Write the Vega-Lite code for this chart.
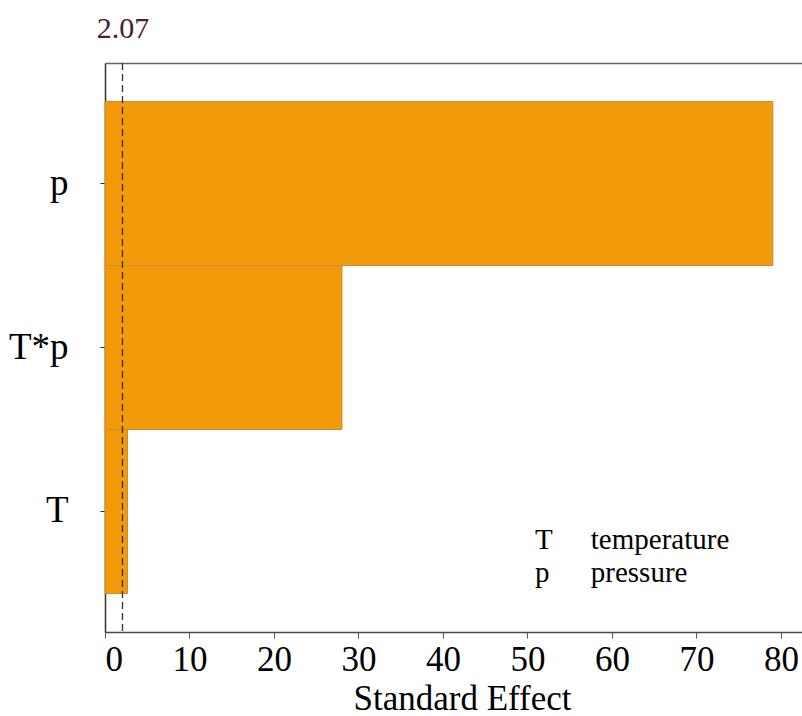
{
  "$schema": "https://vega.github.io/schema/vega-lite/v6.json",
  "width": 697,
  "height": 569,
  "autosize": {"type": "none"},
  "padding": {"left": 105, "top": 63, "right": 0, "bottom": 84},
  "background": "white",
  "config": {
    "font": "Liberation Serif",
    "view": {"stroke": null},
    "axis": {"grid": false, "labelFont": "Liberation Serif", "titleFont": "Liberation Serif", "labelColor": "#000", "titleColor": "#000", "titleFontWeight": "normal"},
    "text": {"font": "Liberation Serif"}
  },
  "datasets": {
    "effects": [
      {"term": "p", "effect": 79.05},
      {"term": "T*p", "effect": 28.05},
      {"term": "T", "effect": 2.66}
    ],
    "reference": [{"alpha_line": 2.07}],
    "factors": [
      {"key": "T", "label": "temperature"},
      {"key": "p", "label": "pressure"}
    ]
  },
  "resolve": {"axis": {"x": "independent"}},
  "layer": [
    {
      "data": {"name": "effects"},
      "mark": {"type": "bar", "fill": "#F39A0B", "stroke": "#C88A35", "strokeWidth": 1},
      "encoding": {
        "y": {
          "field": "term", "type": "nominal",
          "sort": ["p", "T*p", "T"],
          "scale": {"paddingInner": 0, "paddingOuter": 0.235},
          "axis": {"title": null, "labelFontSize": 37, "tickSize": 5, "tickColor": "#333", "labelPadding": 32,
                   "domain": true, "domainColor": "#333", "domainWidth": 1.5, "labelAngle": 0}
        },
        "x": {
          "field": "effect", "type": "quantitative",
          "scale": {"domain": [0, 82.5], "nice": false, "zero": true},
          "axis": {
            "title": "Standard Effect", "values": [0, 10, 20, 30, 40, 50, 60, 70, 80],
            "labelFontSize": 35, "titleFontSize": 35, "tickSize": 6, "tickColor": "#555",
            "domainColor": "#4a4a4a", "domainWidth": 1.5, "labelPadding": 4,
            "titleX": 357, "titleY": 77, "titleBaseline": "alphabetic", "titleAnchor": null
          }
        }
      }
    },
    {
      "data": {"name": "reference"},
      "mark": {"type": "rule", "stroke": "#3a2a2a", "strokeDash": [7, 4], "strokeWidth": 1.3},
      "encoding": {
        "x": {
          "field": "alpha_line", "type": "quantitative",
          "axis": {"orient": "top", "values": [2.07], "ticks": false, "domain": true, "domainColor": "#666", "domainWidth": 1.5,
                   "title": null, "labelFontSize": 30, "labelColor": "#4a2030", "labelPadding": 20, "format": ".2f"}
        }
      }
    },
    {
      "data": {"name": "factors"},
      "transform": [{"filter": "datum.key === 'T'"}],
      "layer": [
        {
          "mark": {"type": "text", "align": "left", "baseline": "alphabetic", "fontSize": 29, "dy": 38},
          "encoding": {"x": {"datum": 50.9, "type": "quantitative", "axis": null}, "y": {"datum": "T", "type": "nominal"}, "text": {"field": "key"}}
        },
        {
          "mark": {"type": "text", "align": "left", "baseline": "alphabetic", "fontSize": 29, "dy": 38},
          "encoding": {"x": {"datum": 57.5, "type": "quantitative", "axis": null}, "y": {"datum": "T", "type": "nominal"}, "text": {"field": "label"}}
        }
      ]
    },
    {
      "data": {"name": "factors"},
      "transform": [{"filter": "datum.key === 'p'"}],
      "layer": [
        {
          "mark": {"type": "text", "align": "left", "baseline": "alphabetic", "fontSize": 29, "dy": 71},
          "encoding": {"x": {"datum": 50.9, "type": "quantitative", "axis": null}, "y": {"datum": "T", "type": "nominal"}, "text": {"field": "key"}}
        },
        {
          "mark": {"type": "text", "align": "left", "baseline": "alphabetic", "fontSize": 29, "dy": 71},
          "encoding": {"x": {"datum": 57.5, "type": "quantitative", "axis": null}, "y": {"datum": "T", "type": "nominal"}, "text": {"field": "label"}}
        }
      ]
    }
  ]
}
